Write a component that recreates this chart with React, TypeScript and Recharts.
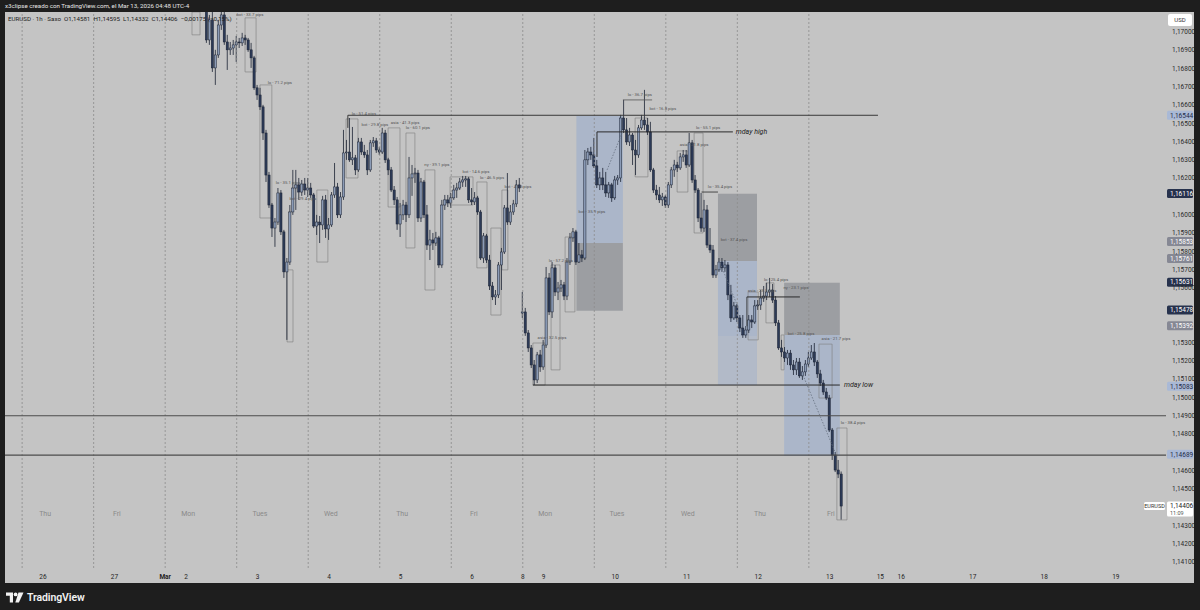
import React from 'react';
import {
  ComposedChart,
  Bar,
  XAxis,
  YAxis,
  ReferenceLine,
  ReferenceArea,
  ReferenceDot,
} from 'recharts';

// hour index 0 = Feb 26 00:00 (UTC-4), weekends skipped
const startHour = 55;

const opens = [
  1.17175, 1.16956, 1.17066, 1.16803, 1.16874, 1.17038, 1.17093, 1.16945, 1.16902, 1.16912,
  1.16929, 1.16945, 1.16940, 1.16967, 1.16956, 1.16902, 1.16858, 1.16694, 1.16655, 1.16590,
  1.16447, 1.16217, 1.16053, 1.15927, 1.15960, 1.16119, 1.15906, 1.15687, 1.15741, 1.16015,
  1.16146, 1.16163, 1.16124, 1.16168, 1.16135, 1.16146, 1.16108, 1.15938, 1.15960, 1.15944,
  1.16081, 1.15922, 1.15944, 1.16108, 1.16152, 1.15999, 1.16097, 1.16338, 1.16343, 1.16300,
  1.16311, 1.16245, 1.16398, 1.16343, 1.16327, 1.16245, 1.16393, 1.16404, 1.16354, 1.16343,
  1.16447, 1.16300, 1.16245, 1.16135, 1.16081, 1.15949, 1.15999, 1.16053, 1.15999, 1.16201,
  1.16223, 1.16228, 1.15982, 1.16179, 1.15999, 1.15834, 1.15862, 1.15845, 1.15873, 1.15725,
  1.16053, 1.16081, 1.16064, 1.16092, 1.16135, 1.16146, 1.16179, 1.16190, 1.16196, 1.16081,
  1.16070, 1.16092, 1.16015, 1.15763, 1.15884, 1.15752, 1.15610, 1.15550, 1.15561, 1.15725,
  1.15796, 1.16037, 1.15960, 1.16015, 1.16059, 1.16163, 1.15462, 1.15468, 1.15353, 1.15271,
  1.15178, 1.15096, 1.15233, 1.15167, 1.15287, 1.15654, 1.15468, 1.15709, 1.15577, 1.15599,
  1.15616, 1.15555, 1.15741, 1.15873, 1.15906, 1.15741, 1.15780, 1.15763, 1.16300, 1.16343,
  1.16327, 1.16267, 1.16163, 1.16201, 1.16163, 1.16119, 1.16163, 1.16092, 1.16190, 1.16201,
  1.16529, 1.16464, 1.16398, 1.16436, 1.16354, 1.16327, 1.16475, 1.16518, 1.16491, 1.16453,
  1.16245, 1.16135, 1.16108, 1.16081, 1.16097, 1.16053, 1.16163, 1.16245, 1.16272, 1.16256,
  1.16316, 1.16327, 1.16272, 1.16393, 1.16190, 1.16135, 1.15982, 1.15927, 1.16026, 1.15834,
  1.15807, 1.15670, 1.15698, 1.15741, 1.15709, 1.15725, 1.15561, 1.15435, 1.15501, 1.15435,
  1.15380, 1.15342, 1.15369, 1.15424, 1.15413, 1.15501, 1.15506, 1.15544, 1.15555, 1.15577,
  1.15588, 1.15533, 1.15408, 1.15271, 1.15249, 1.15216, 1.15243, 1.15178, 1.15151, 1.15194,
  1.15118, 1.15140, 1.15183, 1.15216, 1.15249, 1.15194, 1.15129, 1.15079, 1.15030, 1.14997,
  1.14822, 1.14685, 1.14603, 1.14581,
];

const highs = [
  1.17202, 1.17093, 1.17109, 1.16902, 1.17066, 1.17131, 1.17120, 1.16984, 1.16945, 1.16956,
  1.16978, 1.16967, 1.16995, 1.16984, 1.16967, 1.16940, 1.16869, 1.16710, 1.16694, 1.16601,
  1.16464, 1.16234, 1.16064, 1.15982, 1.16146, 1.16135, 1.15917, 1.15763, 1.16053, 1.16245,
  1.16245, 1.16201, 1.16190, 1.16201, 1.16201, 1.16174, 1.16119, 1.15999, 1.15993, 1.16103,
  1.16108, 1.15982, 1.16124, 1.16283, 1.16174, 1.16124, 1.16464, 1.16409, 1.16529, 1.16480,
  1.16327, 1.16420, 1.16420, 1.16382, 1.16354, 1.16409, 1.16425, 1.16420, 1.16371, 1.16475,
  1.16464, 1.16311, 1.16261, 1.16157, 1.16097, 1.16064, 1.16081, 1.16070, 1.16316, 1.16272,
  1.16256, 1.16245, 1.16201, 1.16190, 1.16053, 1.15917, 1.15900, 1.15906, 1.15884, 1.16081,
  1.16108, 1.16108, 1.16119, 1.16163, 1.16174, 1.16201, 1.16212, 1.16212, 1.16207, 1.16146,
  1.16124, 1.16103, 1.16026, 1.15900, 1.15895, 1.15780, 1.15632, 1.15588, 1.15741, 1.15818,
  1.16053, 1.16228, 1.16053, 1.16081, 1.16190, 1.16201, 1.15577, 1.15490, 1.15369, 1.15287,
  1.15205, 1.15249, 1.15260, 1.15315, 1.15714, 1.15681, 1.15741, 1.15725, 1.15632, 1.15643,
  1.15632, 1.15763, 1.15900, 1.15927, 1.15917, 1.15845, 1.15807, 1.16354, 1.16365, 1.16371,
  1.16420, 1.16300, 1.16234, 1.16256, 1.16234, 1.16179, 1.16174, 1.16212, 1.16217, 1.16546,
  1.16628, 1.16529, 1.16475, 1.16447, 1.16409, 1.16491, 1.16546, 1.16683, 1.16529, 1.16508,
  1.16256, 1.16163, 1.16152, 1.16119, 1.16108, 1.16179, 1.16261, 1.16300, 1.16289, 1.16338,
  1.16354, 1.16354, 1.16447, 1.16409, 1.16217, 1.16146, 1.16119, 1.16081, 1.16053, 1.15927,
  1.15834, 1.15725, 1.15763, 1.15763, 1.15752, 1.15741, 1.15616, 1.15523, 1.15512, 1.15451,
  1.15451, 1.15391, 1.15451, 1.15451, 1.15533, 1.15533, 1.15588, 1.15610, 1.15627, 1.15654,
  1.15621, 1.15555, 1.15424, 1.15315, 1.15276, 1.15260, 1.15260, 1.15205, 1.15216, 1.15216,
  1.15172, 1.15205, 1.15249, 1.15287, 1.15298, 1.15205, 1.15151, 1.15096, 1.15052, 1.15014,
  1.14833, 1.14702, 1.14658, 1.14595,
];

const lows = [
  1.16940, 1.16929, 1.16781, 1.16710, 1.16858, 1.17011, 1.16929, 1.16792, 1.16874, 1.16874,
  1.16836, 1.16912, 1.16923, 1.16929, 1.16891, 1.16803, 1.16683, 1.16628, 1.16573, 1.16409,
  1.16179, 1.16037, 1.15878, 1.15824, 1.15944, 1.15889, 1.15654, 1.15315, 1.15725, 1.15999,
  1.16026, 1.16081, 1.16103, 1.16108, 1.16097, 1.16092, 1.15927, 1.15889, 1.15845, 1.15917,
  1.15873, 1.15862, 1.15933, 1.16092, 1.15982, 1.15982, 1.16081, 1.16300, 1.16289, 1.16272,
  1.16217, 1.16234, 1.16327, 1.16311, 1.16217, 1.16234, 1.16371, 1.16338, 1.16327, 1.16332,
  1.16283, 1.16217, 1.16124, 1.16053, 1.15917, 1.15878, 1.15971, 1.15960, 1.15982, 1.16103,
  1.16174, 1.15960, 1.15960, 1.15982, 1.15807, 1.15752, 1.15807, 1.15829, 1.15709, 1.15709,
  1.16026, 1.16042, 1.16037, 1.16081, 1.16092, 1.16135, 1.16152, 1.16152, 1.16064, 1.16053,
  1.16053, 1.15999, 1.15752, 1.15736, 1.15736, 1.15588, 1.15533, 1.15506, 1.15544, 1.15588,
  1.15785, 1.15944, 1.15944, 1.15999, 1.16042, 1.16124, 1.15435, 1.15337, 1.15249, 1.15161,
  1.15068, 1.15079, 1.15140, 1.15151, 1.15271, 1.15451, 1.15435, 1.15555, 1.15533, 1.15577,
  1.15533, 1.15533, 1.15725, 1.15851, 1.15725, 1.15736, 1.15741, 1.15752, 1.16272, 1.16300,
  1.16256, 1.16146, 1.16135, 1.16135, 1.16097, 1.16092, 1.16070, 1.16081, 1.16163, 1.16179,
  1.16447, 1.16382, 1.16376, 1.16272, 1.16217, 1.16311, 1.16464, 1.16464, 1.16436, 1.16234,
  1.16119, 1.16081, 1.16064, 1.16048, 1.16037, 1.16037, 1.16146, 1.16207, 1.16234, 1.16245,
  1.16289, 1.16256, 1.16261, 1.16174, 1.16119, 1.15960, 1.15906, 1.15906, 1.15818, 1.15791,
  1.15654, 1.15654, 1.15687, 1.15687, 1.15687, 1.15533, 1.15413, 1.15424, 1.15413, 1.15358,
  1.15326, 1.15326, 1.15353, 1.15380, 1.15402, 1.15479, 1.15479, 1.15523, 1.15533, 1.15550,
  1.15517, 1.15391, 1.15260, 1.15222, 1.15194, 1.15178, 1.15151, 1.15123, 1.15123, 1.15107,
  1.15096, 1.15118, 1.15167, 1.15205, 1.15172, 1.15107, 1.15063, 1.15014, 1.14986, 1.14811,
  1.14658, 1.14592, 1.14559, 1.14332,
];

const closes = [
  1.16956, 1.17066, 1.16803, 1.16874, 1.17038, 1.17093, 1.16945, 1.16902, 1.16912, 1.16929,
  1.16945, 1.16940, 1.16967, 1.16956, 1.16902, 1.16858, 1.16694, 1.16655, 1.16590, 1.16447,
  1.16217, 1.16053, 1.15927, 1.15960, 1.16119, 1.15906, 1.15687, 1.15741, 1.16015, 1.16146,
  1.16163, 1.16124, 1.16168, 1.16135, 1.16146, 1.16108, 1.15938, 1.15960, 1.15944, 1.16081,
  1.15922, 1.15944, 1.16108, 1.16152, 1.15999, 1.16097, 1.16338, 1.16343, 1.16300, 1.16311,
  1.16245, 1.16398, 1.16343, 1.16327, 1.16245, 1.16393, 1.16404, 1.16354, 1.16343, 1.16447,
  1.16300, 1.16245, 1.16135, 1.16081, 1.15949, 1.15999, 1.16053, 1.15999, 1.16201, 1.16223,
  1.16228, 1.15982, 1.16179, 1.15999, 1.15834, 1.15862, 1.15845, 1.15873, 1.15725, 1.16053,
  1.16081, 1.16064, 1.16092, 1.16135, 1.16146, 1.16179, 1.16190, 1.16196, 1.16081, 1.16070,
  1.16092, 1.16015, 1.15763, 1.15884, 1.15752, 1.15610, 1.15550, 1.15561, 1.15725, 1.15796,
  1.16037, 1.15960, 1.16015, 1.16059, 1.16163, 1.16146, 1.15468, 1.15353, 1.15271, 1.15178,
  1.15096, 1.15233, 1.15167, 1.15287, 1.15654, 1.15468, 1.15709, 1.15577, 1.15599, 1.15616,
  1.15555, 1.15741, 1.15873, 1.15906, 1.15741, 1.15780, 1.15763, 1.16300, 1.16343, 1.16327,
  1.16267, 1.16163, 1.16201, 1.16163, 1.16119, 1.16163, 1.16092, 1.16190, 1.16201, 1.16529,
  1.16464, 1.16398, 1.16436, 1.16354, 1.16327, 1.16475, 1.16518, 1.16491, 1.16453, 1.16245,
  1.16135, 1.16108, 1.16081, 1.16097, 1.16053, 1.16163, 1.16245, 1.16272, 1.16256, 1.16316,
  1.16327, 1.16272, 1.16393, 1.16190, 1.16135, 1.15982, 1.15927, 1.16026, 1.15834, 1.15807,
  1.15670, 1.15698, 1.15741, 1.15709, 1.15725, 1.15561, 1.15435, 1.15501, 1.15435, 1.15380,
  1.15342, 1.15369, 1.15424, 1.15413, 1.15501, 1.15506, 1.15544, 1.15555, 1.15577, 1.15588,
  1.15533, 1.15408, 1.15271, 1.15249, 1.15216, 1.15243, 1.15178, 1.15151, 1.15194, 1.15118,
  1.15140, 1.15183, 1.15216, 1.15249, 1.15194, 1.15129, 1.15079, 1.15030, 1.14997, 1.14822,
  1.14685, 1.14603, 1.14581, 1.14406,
];

// x axis: date ticks (hour index) and labels
const dateTickHours = [0, 24, 41, 48, 72, 96, 120, 144, 161, 168, 192, 216, 240, 264, 281, 288, 312, 336, 360];
const dateTickLabels = ['26', '27', 'Mar', '2', '3', '4', '5', '6', '8', '9', '10', '11', '12', '13', '15', '16', '17', '18', '19'];

// session breaks (17:00)
const sessionBreaks = [-7, 17, 41, 65, 89, 113, 137, 161, 185, 209, 233, 257];

const dayNames = ['Thu', 'Fri', 'Mon', 'Tues', 'Wed', 'Thu', 'Fri', 'Mon', 'Tues', 'Wed', 'Thu', 'Fri'];
const dayNameHours = [0.7, 24.8, 48.7, 72.8, 96.6, 120.5, 144.6, 168.5, 192.6, 216.4, 240.6, 264.4];

const priceTicks = [
  1.141, 1.142, 1.143, 1.145, 1.146, 1.148, 1.149, 1.15, 1.151, 1.152, 1.153, 1.156,
  1.157, 1.158, 1.159, 1.16, 1.162, 1.163, 1.164, 1.165, 1.166, 1.167, 1.168, 1.169, 1.17,
];

const badgePrices = [1.16544, 1.16116, 1.15853, 1.15761, 1.15631, 1.15478, 1.15392, 1.15083, 1.14689];
const badgeKinds = ['light', 'navy', 'gray', 'gray', 'navy', 'navy', 'gray', 'light', 'light'];
// label collision shift, pixels (TradingView pushes the badge below the 1,15100 tick)
const badgeShift = [0, 0, 0, 0, 0, 0, 0, 4, 0];

const lastPrice = 1.14406;

// zones: [x1, x2, yTop, yBottom]
const blueZones = [
  [179, 194.6, 1.1654, 1.15845],
  [226.5, 239.6, 1.15747, 1.15337],
  [248.7, 267.4, 1.15342, 1.1468],
];
const blueZonesLight = [[226.5, 239.6, 1.15337, 1.15068]];
const grayZones = [
  [179, 194.6, 1.15845, 1.15474],
  [226.5, 239.6, 1.16114, 1.15747],
  [248.7, 267.4, 1.15627, 1.15342],
];

// annotation outline boxes: [x1, x2, yTop, yBottom]
const noteBoxes = [
  [50, 52.7, 1.17109, 1.16984],
  [67.8, 71.5, 1.17077, 1.16781],
  [72.8, 76.8, 1.1671, 1.15982],
  [81.9, 83.9, 1.15698, 1.15304],
  [91.9, 95.6, 1.16135, 1.15741],
  [101.7, 105.7, 1.16524, 1.16201],
  [115.8, 119.8, 1.16475, 1.16042],
  [121.8, 124.8, 1.16447, 1.15818],
  [128.2, 131.5, 1.16245, 1.15588],
  [136.6, 144.3, 1.16207, 1.16053],
  [145.6, 149, 1.16179, 1.15709],
  [150.3, 153.7, 1.15927, 1.15451],
  [154, 156, 1.16135, 1.15698],
  [164.4, 168.5, 1.15298, 1.15068],
  [170.5, 173.5, 1.15725, 1.15151],
  [175.2, 178.5, 1.15878, 1.15468],
  [198.7, 203, 1.16529, 1.16207],
  [212.8, 216.4, 1.16349, 1.16124],
  [218.5, 221.5, 1.16447, 1.159],
  [236.6, 240, 1.15577, 1.15315],
  [242.6, 245.3, 1.15627, 1.15408],
  [247.7, 248.7, 1.15342, 1.15151],
  [260.4, 264.8, 1.15292, 1.14997],
  [266.4, 269.8, 1.14833, 1.1433],
];

const noteTexts = [
  'bxt - 33.7 pips', 'lo - 71.2 pips', 'lo - 35.1 pips', 'bxt - 29.4 pips', 'lo - 51.4 pips',
  'bxt - 29.8 pips', 'asia - 41.3 pips', 'lo - 60.1 pips', 'ny - 39.1 pips', 'bxt - 14.6 pips',
  'lo - 46.5 pips', 'bxt - 41.3 pips', 'asia - 32.5 pips', 'lo - 57.2 pips', 'bxt - 35.9 pips',
  'lo - 36.7 pips', 'bxt - 16.8 pips', 'lo - 55.1 pips', 'asia - 21.8 pips', 'lo - 35.4 pips',
  'bxt - 37.4 pips', 'asia - 23.5 pips', 'lo - 25.4 pips', 'ny - 23.1 pips', 'bxt - 25.8 pips',
  'asia - 21.7 pips', 'lo - 38.4 pips',
];
const noteHours = [
  69.5, 79.5, 82.2, 87.2, 107.7, 111.4, 121.5, 125.8, 132.2, 145.3, 150.7, 159.4, 170.8, 173.8,
  184.2, 200.3, 208, 223.2, 218.5, 227.2, 231.9, 241.3, 246, 252.7, 254.4, 266.1, 271.8,
];
const notePrices = [
  1.17093, 1.16721, 1.16174, 1.16086, 1.16551, 1.16491, 1.16502, 1.16475, 1.16272, 1.16234,
  1.16201, 1.16157, 1.15326, 1.15752, 1.16015, 1.16655, 1.16579, 1.16475, 1.16382, 1.16152,
  1.15867, 1.15583, 1.15643, 1.15599, 1.15348, 1.1532, 1.14861,
];

const candles = closes.map((close, k) => ({
  hour: startHour + k,
  open: opens[k],
  high: highs[k],
  low: lows[k],
  close,
}));

const fmt = (v: number) => v.toFixed(5).replace('.', ',');

const Candle = (props: any) => {
  const { x, y, width, height, payload } = props;
  if (x == null || y == null) return null;
  const { open, close, high, low } = payload;
  const top = Math.min(y, y + height);
  const h = Math.abs(height);
  const cx = x + width / 2;
  const k = high - low > 0 ? h / (high - low) : 0;
  const yo = top + (high - open) * k;
  const yc = top + (high - close) * k;
  const up = close >= open;
  return (
    <g>
      <line x1={cx} x2={cx} y1={top} y2={top + h} stroke="#1b2232" strokeWidth={0.8} />
      <rect
        x={cx - 1.1}
        y={Math.min(yo, yc)}
        width={2.2}
        height={Math.max(Math.abs(yo - yc), 0.8)}
        fill={up ? '#8b9bb6' : '#2c3a57'}
        stroke="#1b2232"
        strokeWidth={0.5}
      />
    </g>
  );
};

const badgeColors: Record<string, [string, string]> = {
  light: ['#a9b9d6', '#1f2b45'],
  navy: ['#27324d', '#ffffff'],
  gray: ['#868894', '#ffffff'],
};

const PriceBadge = (props: any) => {
  const { viewBox, price, kind, shift } = props;
  if (!viewBox) return null;
  const [bg, fg] = badgeColors[kind];
  const x = viewBox.x + viewBox.width + 1;
  const y = viewBox.y + (shift || 0);
  return (
    <g>
      <rect x={x} y={y - 4.5} width={26} height={9} rx={1.5} fill={bg} />
      <text x={x + 3} y={y + 2.3} fontSize={6.5} fill={fg}>{fmt(price)}</text>
    </g>
  );
};

const LastBadge = (props: any) => {
  const { viewBox } = props;
  if (!viewBox) return null;
  const right = viewBox.x + viewBox.width;
  const y = viewBox.y;
  return (
    <g>
      <rect x={right - 22} y={y - 4} width={21} height={8} rx={1.5} fill="#ffffff" />
      <text x={right - 11.5} y={y + 2} fontSize={5.5} fill="#333" textAnchor="middle">EURUSD</text>
      <rect x={right + 1} y={y - 4.5} width={26} height={15} rx={1.5} fill="#ffffff" />
      <text x={right + 4} y={y + 2.3} fontSize={6.5} fill="#222">{fmt(lastPrice)}</text>
      <text x={right + 4} y={y + 8.8} fontSize={5.5} fill="#555">11:09</text>
    </g>
  );
};

const DateTick = (props: any) => {
  const { x, y, payload } = props;
  const idx = dateTickHours.indexOf(payload.value);
  const label = idx >= 0 ? dateTickLabels[idx] : '';
  return (
    <text x={x} y={y + 10.5} textAnchor="middle" fontSize={6.5} fill="#1e1e1e" fontWeight={label === 'Mar' ? 700 : 400}>
      {label}
    </text>
  );
};

const PriceTick = (props: any) => {
  const { x, y, payload } = props;
  return (
    <text x={x} y={y + 2.3} textAnchor="start" fontSize={6.5} fill="#2a2a2a">
      {fmt(payload.value)}
    </text>
  );
};

const DotText = (props: any) => {
  const { viewBox, text, size, color, italic, anchor } = props;
  if (!viewBox) return null;
  const x = viewBox.x + (viewBox.width || 0) / 2;
  const y = viewBox.y + (viewBox.height || 0) / 2;
  return (
    <text
      x={x}
      y={y + size * 0.35}
      fontSize={size}
      fill={color}
      fontStyle={italic ? 'italic' : 'normal'}
      textAnchor={anchor || 'middle'}
    >
      {text}
    </text>
  );
};

const lineDark = '#2a2a2a';

const App: React.FC = () => {
  return (
    <div
      style={{
        position: 'absolute',
        left: 0,
        top: 0,
        width: 1200,
        height: 610,
        background: '#1e1e1e',
        overflow: 'hidden',
        fontFamily: 'Roboto, "Liberation Sans", sans-serif',
      }}
    >
      <div style={{ position: 'absolute', left: 5, top: 1, fontSize: 6.2, lineHeight: '11px', color: '#e6e6e6', whiteSpace: 'nowrap' }}>
        x3clipse creado con TradingView.com, el Mar 13, 2026 04:48 UTC-4
      </div>

      <div style={{ position: 'absolute', left: 5, top: 12, width: 1189, height: 571, background: '#c4c4c4' }}>
        <ComposedChart width={1189} height={571} data={candles} margin={{ top: 0, right: 0, bottom: 0, left: 0 }}>
          <XAxis
            dataKey="hour"
            type="number"
            domain={[-12.75, 376.85]}
            allowDataOverflow
            ticks={dateTickHours}
            interval={0}
            height={15}
            axisLine={false}
            tickLine={false}
            tickSize={0}
            tickMargin={0}
            tick={<DateTick />}
          />
          <YAxis
            orientation="right"
            type="number"
            width={28}
            domain={[1.14067, 1.17109]}
            allowDataOverflow
            ticks={priceTicks}
            interval={0}
            axisLine={false}
            tickLine={false}
            tickSize={0}
            tickMargin={6}
            tick={<PriceTick />}
          />

          {sessionBreaks.map((h) => (
            <ReferenceLine key={`s${h}`} x={h} stroke="#8c8c8c" strokeDasharray="2 2" strokeWidth={0.8} />
          ))}

          {grayZones.map((z, k) => (
            <ReferenceArea key={`g${k}`} x1={z[0]} x2={z[1]} y1={z[3]} y2={z[2]} fill="#6c707b" fillOpacity={0.45} stroke="none" ifOverflow="hidden" />
          ))}
          {blueZones.map((z, k) => (
            <ReferenceArea key={`b${k}`} x1={z[0]} x2={z[1]} y1={z[3]} y2={z[2]} fill="#88a2cf" fillOpacity={0.42} stroke="none" ifOverflow="hidden" />
          ))}
          {blueZonesLight.map((z, k) => (
            <ReferenceArea key={`bl${k}`} x1={z[0]} x2={z[1]} y1={z[3]} y2={z[2]} fill="#88a2cf" fillOpacity={0.3} stroke="none" ifOverflow="hidden" />
          ))}
          {noteBoxes.map((z, k) => (
            <ReferenceArea key={`n${k}`} x1={z[0]} x2={z[1]} y1={z[3]} y2={z[2]} fill="none" fillOpacity={0} stroke="#7c7c7c" strokeWidth={0.6} ifOverflow="hidden" />
          ))}

          <ReferenceLine y={1.149} stroke="#4d4d4d" strokeWidth={1.2} />
          <ReferenceLine y={1.14685} stroke="#4d4d4d" strokeWidth={1.2} />

          <ReferenceLine segment={[{ x: 102.3, y: 1.16544 }, { x: 280.2, y: 1.16544 }]} stroke="#3a3a3a" strokeWidth={1} />
          <ReferenceLine segment={[{ x: 102.3, y: 1.16544 }, { x: 102.3, y: 1.16475 }]} stroke="#3a3a3a" strokeWidth={1} />
          <ReferenceLine segment={[{ x: 185.9, y: 1.16453 }, { x: 231.5, y: 1.16453 }]} stroke={lineDark} strokeWidth={1} />
          <ReferenceLine segment={[{ x: 185.9, y: 1.16453 }, { x: 185.9, y: 1.16316 }]} stroke={lineDark} strokeWidth={1} />
          <ReferenceLine segment={[{ x: 164.4, y: 1.15068 }, { x: 267.4, y: 1.15068 }]} stroke={lineDark} strokeWidth={1} />
          <ReferenceLine segment={[{ x: 236.2, y: 1.1555 }, { x: 254, y: 1.1555 }]} stroke={lineDark} strokeWidth={1} />
          <ReferenceLine segment={[{ x: 236.2, y: 1.1555 }, { x: 236.2, y: 1.1539 }]} stroke={lineDark} strokeWidth={0.8} />
          <ReferenceLine segment={[{ x: 221, y: 1.16124 }, { x: 226.5, y: 1.16124 }]} stroke={lineDark} strokeWidth={0.8} />
          <ReferenceLine segment={[{ x: 194.6, y: 1.16628 }, { x: 204.4, y: 1.16628 }]} stroke="#555" strokeWidth={0.8} />

          <ReferenceLine segment={[{ x: 189.3, y: 1.16245 }, { x: 194.3, y: 1.16447 }]} stroke="#66707f" strokeDasharray="1.5 1.5" strokeWidth={0.8} />
          <ReferenceLine segment={[{ x: 227.2, y: 1.15736 }, { x: 233.2, y: 1.15495 }]} stroke="#66707f" strokeDasharray="1.5 1.5" strokeWidth={0.8} />
          <ReferenceLine segment={[{ x: 255, y: 1.15123 }, { x: 265.8, y: 1.14702 }]} stroke="#66707f" strokeDasharray="1.5 1.5" strokeWidth={0.8} />

          <Bar
            dataKey={(d: any) => [d.low, d.high]}
            shape={<Candle />}
            barSize={2}
            isAnimationActive={false}
          />

          {noteTexts.map((t, k) => (
            <ReferenceDot
              key={`t${k}`}
              x={noteHours[k]}
              y={notePrices[k]}
              r={0}
              fill="none"
              stroke="none"
              label={<DotText text={t} size={4.3} color="#555" />}
            />
          ))}

          {dayNames.map((d, k) => (
            <ReferenceDot
              key={`d${k}`}
              x={dayNameHours[k]}
              y={1.14363}
              r={0}
              fill="none"
              stroke="none"
              label={<DotText text={d} size={7} color="#8a8a8a" />}
            />
          ))}

          <ReferenceDot x={232.5} y={1.16453} r={0} fill="none" stroke="none" label={<DotText text="mday high" size={7} color="#1a1a1a" italic anchor="start" />} />
          <ReferenceDot x={268.8} y={1.15068} r={0} fill="none" stroke="none" label={<DotText text="mday low" size={7} color="#1a1a1a" italic anchor="start" />} />

          {badgePrices.map((p, k) => (
            <ReferenceLine key={`p${k}`} y={p} stroke="none" label={<PriceBadge price={p} kind={badgeKinds[k]} shift={badgeShift[k]} />} />
          ))}
          <ReferenceLine y={lastPrice} stroke="none" label={<LastBadge />} />
        </ComposedChart>

        <div style={{ position: 'absolute', left: 3, top: 3, fontSize: 6.2, lineHeight: '8px', color: '#222', whiteSpace: 'nowrap' }}>
          EURUSD · 1h · Saxo&nbsp;&nbsp;O1,14581&nbsp;&nbsp;H1,14595&nbsp;&nbsp;L1,14332&nbsp;&nbsp;C1,14406&nbsp;&nbsp;−0,00175 (−0,15%)
        </div>
        <div
          style={{
            position: 'absolute',
            left: 1163,
            top: 2,
            width: 24,
            height: 12,
            background: '#ffffff',
            borderRadius: 2,
            fontSize: 6,
            lineHeight: '12px',
            textAlign: 'center',
            color: '#333',
          }}
        >
          USD
        </div>
      </div>

      <div style={{ position: 'absolute', left: 6, top: 591, display: 'flex', alignItems: 'center' }}>
        <svg width={18} height={11} viewBox="0 0 18 11">
          <path d="M0 0.5h7v10h-3.2v-6.8H0z" fill="#f2f2f2" />
          <circle cx={9.6} cy={2.4} r={1.9} fill="#f2f2f2" />
          <path d="M12.5 0.5h5l-4.6 10h-3.6z" fill="#f2f2f2" />
        </svg>
        <span style={{ marginLeft: 3, fontSize: 10.5, fontWeight: 600, color: '#f2f2f2', letterSpacing: -0.1 }}>TradingView</span>
      </div>
    </div>
  );
};

export default App;
